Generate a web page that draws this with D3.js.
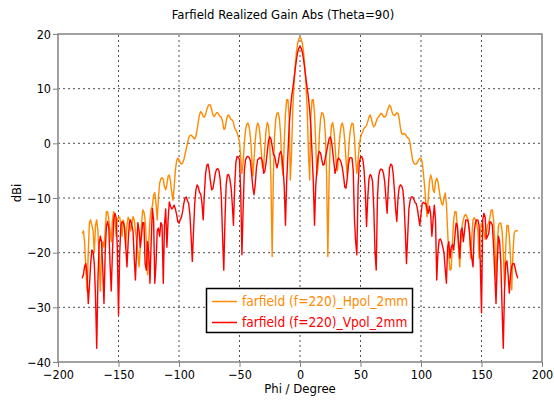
<!DOCTYPE html>
<html><head><meta charset="utf-8">
<script src="https://cdn.jsdelivr.net/npm/d3@7"></script>
<style>
html,body{margin:0;padding:0;background:#fff;}
svg text{font-family:"DejaVu Sans Condensed","DejaVu Sans",sans-serif;}
</style></head>
<body><svg id="chart" width="554" height="405"></svg>
<script>
const chartTitle = "Farfield Realized Gain Abs (Theta=90)";
const xLabel = "Phi / Degree";
const yLabel = "dBi";
const xTicks = [-200,-150,-100,-50,0,50,100,150,200];
const yTicks = [-40,-30,-20,-10,0,10,20];
const seriesNames = ["farfield (f=220)_Hpol_2mm","farfield (f=220)_Vpol_2mm"];
const seriesColors = ["#ff8a00","#ff0000"];
const phiDeg = d3.range(-180, 181, 1);

const hpolGain = [
-16.5,-16,-18,-23,-27,-20,-14.5,-14,-15,-16,
-20,-15,-14,-16,-21,-27,-20,-18,-19,-16,
-12.5,-12.5,-14,-16,-18,-14,-12.5,-14,-17,-14,
-13.5,-13.5,-15,-17,-14,-15,-19,-15,-13.5,-14,
-16,-15,-13.4,-14,-16,-18,-20,-22.6,-19,-15,
-12.2,-12.5,-14,-18,-24,-18,-14,-12,-11.5,-9.5,
-9,-11,-14,-10,-7.3,-6.5,-6.3,-6.6,-7.9,-8.5,
-7.5,-6,-5.8,-7,-9,-10.4,-8,-5,-3.2,-2.7,
-3,-3.5,-3.8,-3.6,-3,-2,-1,0,1,1.4,
1.5,1.3,1,0.8,1.3,2.5,4,5.3,5.8,5.5,
4.9,4.8,5.3,6.2,6.8,7.1,7,6.2,5.2,4.9,
5.2,5.6,5.6,5.2,4.9,4.8,4,2.6,2.6,4,
5,5.2,4.8,4.3,4.3,3.8,2.8,2.4,2,1.2,
0.3,-2.5,-5.5,-3.5,0,2.5,3.5,3.7,3,1.2,
-2,-6,-3,0.5,2.8,3.7,3.3,1.5,-1.5,-4.5,
-4,-0.5,2.5,3.8,3.2,0,-7,-20.7,-6,1.5,
4.5,5.5,5.6,4.5,1.5,-4,-5.8,0,5.5,8,
8,5,-6.7,-2,6,10.5,14,16.5,18.2,19.1,
19.4,19.1,18.2,16.5,14,10.5,6,-2,-6.7,5,
8,8,5.5,0,-5.8,-4,1.5,4.5,5.6,5.5,
4.5,1.5,-6,-20.7,-7,0,3.2,3.8,2.5,-0.5,
-4,-5,-1.5,1.5,3.3,3.7,2.8,0.5,-3,-6,
-2,1.2,3,3.7,3.5,1,-3,-5.5,-3,-0.5,
1,1.7,2.2,2.8,3,3.3,4,4.8,5.2,4.5,
3.5,3,3.3,4,4.6,4.8,5.2,5.5,5.3,4.9,
4.8,5,5.8,6.5,7,6.7,5.8,5.2,5.1,5.3,
5.6,5.5,4.5,2.8,1.8,1.6,1.8,1.7,1.3,1,
0.9,0,-1.5,-3,-3.6,-3.8,-3.8,-3.5,-3,-2.8,
-2.7,-3.5,-5.5,-7.9,-11,-13.4,-10,-7,-5.8,-6.5,
-8.5,-9,-7,-6.4,-7,-8.5,-10,-11,-11.3,-10,
-9.1,-11,-16,-20.7,-23.2,-23,-18,-14,-12.5,-12.5,
-15,-19,-22.6,-18,-15,-14,-13.2,-13,-13.5,-14,
-16,-21,-17,-14,-13.6,-14,-14.5,-16,-21,-16,
-14.6,-14.8,-16,-17.5,-16.5,-15,-14.5,-13.5,-12.2,-12.2,
-14,-18,-25,-19,-15,-14.6,-14.6,-16,-20,-26,
-19,-15,-15,-17,-21,-26.8,-20,-16.5,-16,-16,
-16
];

const vpolGain = [
-24.7,-24,-22.5,-22,-24,-29.3,-26,-22,-19.5,-19.8,
-22,-28,-37.5,-25,-18.3,-17,-18,-23,-29.3,-20,
-15.2,-14.3,-15.5,-22,-27,-20,-14,-12.8,-13.5,-19,
-31.4,-20,-15,-14.3,-14.5,-15.5,-19,-22.6,-18,-14.5,
-14,-15,-16,-21,-25,-19,-14.5,-16,-19,-17,
-14.5,-14.5,-22,-23.2,-18,-20,-25.6,-18,-11.9,-14,
-25.6,-22,-16,-15.5,-17,-14.5,-15,-25.6,-15,-12,
-19,-14,-10.7,-11.5,-12,-11.8,-11.3,-12,-13,-14.3,
-14.6,-14,-13.5,-12.5,-11,-10,-9.8,-10.5,-11,-13,
-17,-21.6,-16,-11,-8.5,-7.6,-8,-9,-9.3,-11,
-14,-9,-5.5,-4,-3.8,-5,-7,-8.5,-8.3,-7,
-5.5,-4.8,-4.6,-5,-6.5,-10,-17,-23.2,-14,-7.5,
-5.8,-5.7,-6.5,-8,-11,-15,-8,-3.5,-2.4,-2.5,
-3,-9,-20.4,-12,-5,-3,-2.5,-2.4,-2.6,-3.2,
-5.5,-8,-9.4,-7.5,-4.5,-3,-2.8,-2.6,-2.7,-3.5,
-5.5,-5,-3.5,-1.5,0.5,1.2,0.8,-0.5,-2,-2.3,
-3.5,-4.5,-3.5,-2,-1.5,-2.2,-4.5,-8,-15,-7,
-2,3,6,8.3,10,11.7,13.5,15.2,16.6,17.4,
17.7,17.4,16.6,15.2,13.5,11.7,10,8.3,6,3,
-2,-7,-15,-8,-4.5,-2.2,-1.5,-1.8,-3,-4,
-3.8,-2.5,-1.5,-0.3,0.8,1.2,0.5,-1.5,-3.5,-5.5,
-4.5,-3,-2.7,-3,-3.5,-4.5,-6,-8,-8.2,-6.5,
-4,-2.7,-2.6,-2.7,-5,-13.8,-18,-20.4,-8,-3.5,
-2.6,-2.4,-3,-5,-9,-15.2,-10,-6.5,-5.7,-6,
-7,-12,-20,-23.2,-10,-6,-5,-4.7,-4.8,-5.5,
-7,-10,-12.8,-8,-4.5,-3.8,-4,-5.5,-8.5,-12,
-14.3,-10,-8,-7.6,-7.8,-8.5,-11,-16,-22,-17,
-12,-10.5,-9.8,-9.8,-10.2,-10.8,-11,-12,-13.5,-15,
-13,-11,-10.8,-11,-11,-12,-12.8,-11.5,-13,-17,
-14,-11.3,-14,-25,-20,-17.7,-17.5,-18,-19,-20,
-23,-25.6,-19,-18,-21,-19,-18.5,-19.5,-17,-14.6,
-15,-18,-21,-16,-15.5,-18,-16,-14,-14,-14.3,
-16,-19,-21,-22.6,-16,-14.5,-14,-14,-15,-22,
-31,-14,-12.8,-13.5,-17.5,-17,-16.5,-14.3,-14.5,-15,
-19,-24,-29.3,-22,-17,-18,-22,-30,-37.5,-27,
-22,-21.5,-24,-27.4,-24,-22.5,-22,-22,-23,-24,
-24.7
];

const svg = d3.select("#chart");
const m = {l:58, r:12, t:34, b:43};
const W = 554, H = 405;
const x = d3.scaleLinear().domain([-200,200]).range([m.l, W-m.r]);
const y = d3.scaleLinear().domain([-40,20]).range([H-m.b, m.t]);

const gridColor = "#505050";
svg.append("g").selectAll("line").data(xTicks.slice(1,-1)).join("line")
  .attr("x1", d=>x(d)).attr("x2", d=>x(d)).attr("y1", y(-40)).attr("y2", y(20))
  .attr("stroke", gridColor).attr("stroke-width",1).attr("stroke-dasharray","2,3");
svg.append("g").selectAll("line").data(yTicks.slice(1,-1)).join("line")
  .attr("y1", d=>y(d)).attr("y2", d=>y(d)).attr("x1", x(-200)).attr("x2", x(200))
  .attr("stroke", gridColor).attr("stroke-width",1).attr("stroke-dasharray","2,3");

const xAxis = d3.axisBottom(x).tickValues(xTicks).tickSize(5).tickPadding(3);
const yAxis = d3.axisLeft(y).tickValues(yTicks).tickSize(5).tickPadding(2);
const gx = svg.append("g").attr("transform",`translate(0,${y(-40)})`).call(xAxis);
const gy = svg.append("g").attr("transform",`translate(${x(-200)},0)`).call(yAxis);
[gx,gy].forEach(g=>{
  g.select(".domain").remove();
  g.selectAll(".tick line").attr("stroke","#808080");
  g.selectAll(".tick text").attr("fill","#000").style("font-size","12.5px")
   .style("font-family",'"DejaVu Sans Condensed","DejaVu Sans",sans-serif');
});

svg.append("rect").attr("x", x(-200)).attr("y", y(20)).attr("width", x(200)-x(-200)).attr("height", y(-40)-y(20))
  .attr("fill","none").attr("stroke","#8a8a8a").attr("stroke-width",1.6);

svg.append("clipPath").attr("id","clip").append("rect")
  .attr("x", x(-200)).attr("y", y(20)).attr("width", x(200)-x(-200)).attr("height", y(-40)-y(20));

const line = d3.line().x((d,i)=>x(phiDeg[i])).y(d=>y(d));
const plotG = svg.append("g").attr("clip-path","url(#clip)");
[hpolGain, vpolGain].forEach((s,k)=>{
  plotG.append("path").datum(s).attr("d", line).attr("fill","none")
    .attr("stroke", seriesColors[k]).attr("stroke-width",1.4).attr("stroke-linejoin","round");
});

svg.append("text").attr("x",283).attr("y",19).attr("text-anchor","middle").style("font-size","13px").text(chartTitle);
svg.append("text").attr("x",(x(-200)+x(200))/2).attr("y",393).attr("text-anchor","middle").style("font-size","13px").text(xLabel);
svg.append("text").attr("transform","translate(21,193) rotate(-90)").attr("text-anchor","middle").style("font-size","13px").text(yLabel);

const lg = svg.append("g");
lg.append("rect").attr("x",206.5).attr("y",288.5).attr("width",206).attr("height",44)
  .attr("fill","#fff").attr("stroke","#000").attr("stroke-width",1.5);
seriesNames.forEach((n,i)=>{
  const yy = 301.5 + i*21;
  lg.append("line").attr("x1",212).attr("x2",237).attr("y1",yy).attr("y2",yy)
    .attr("stroke",seriesColors[i]).attr("stroke-width",1.5);
  lg.append("text").attr("x",242).attr("y",yy).attr("dy","0.35em").attr("fill",seriesColors[i])
    .style("font-size","13.6px").text(n);
});
</script></body></html>
